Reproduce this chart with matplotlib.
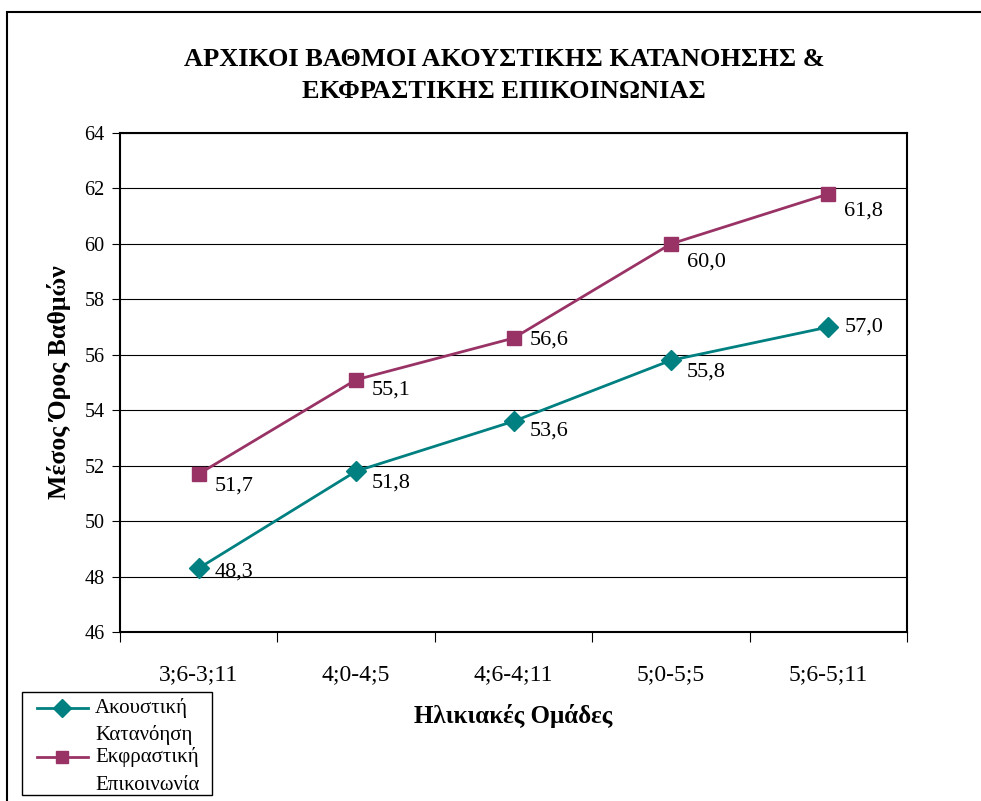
import matplotlib
matplotlib.use("Agg")
import matplotlib.pyplot as plt
from matplotlib.patches import Rectangle
from matplotlib.lines import Line2D
from matplotlib.ticker import FixedLocator, NullFormatter

categories = ["3;6-3;11", "4;0-4;5", "4;6-4;11", "5;0-5;5", "5;6-5;11"]
akoustiki = [48.3, 51.8, 53.6, 55.8, 57.0]
ekfrastiki = [51.7, 55.1, 56.6, 60.0, 61.8]
series_names = [["Ακουστική", "Κατανόηση"], ["Εκφραστική", "Επικοινωνία"]]
yticks = [46, 48, 50, 52, 54, 56, 58, 60, 62, 64]

# label vertical offsets (pixels below the point), styling only
off_ak = [4, 12, 10, 12, 0]
off_ek = [12, 10, 2, 18, 17]

plt.rcParams['font.family'] = ['Liberation Serif', 'DejaVu Serif']

W, H = 981, 801
fig = plt.figure(figsize=(W / 100, H / 100), dpi=100)
PX = 0.72  # points per pixel at dpi 100

# outer chart frame
fig.patches.append(Rectangle((7 / W, -0.1), 1.2, 1 - 12 / H + 0.1, transform=fig.transFigure,
                             fill=False, edgecolor='black', linewidth=1.5, zorder=0))

left, right, top, bottom = 120, 907, 133, 632
ax = fig.add_axes([left / W, 1 - bottom / H, (right - left) / W, (bottom - top) / H])

x = list(range(len(categories)))
teal = '#008080'
purple = '#993366'
ax.plot(x, akoustiki, color=teal, linewidth=2.0, marker='D', markersize=10,
        markerfacecolor=teal, markeredgecolor=teal, zorder=3)
ax.plot(x, ekfrastiki, color=purple, linewidth=2.0, marker='s', markersize=10,
        markerfacecolor=purple, markeredgecolor=purple, zorder=3)

for xi, v, o in zip(x, akoustiki, off_ak):
    ax.annotate(f"{v:.1f}".replace('.', ','), (xi, v), xytext=(16 * PX, -o * PX),
                textcoords='offset points', ha='left', va='center', fontsize=16)
for xi, v, o in zip(x, ekfrastiki, off_ek):
    ax.annotate(f"{v:.1f}".replace('.', ','), (xi, v), xytext=(16 * PX, -o * PX),
                textcoords='offset points', ha='left', va='center', fontsize=16)

ax.set_xlim(-0.5, len(categories) - 0.5)
ax.set_ylim(46, 64)
ax.set_yticks(yticks)
ax.set_yticklabels([str(t) for t in yticks], fontsize=14.5)
ax.yaxis.grid(True, color='black', linewidth=0.8)
ax.set_axisbelow(True)

ax.set_xticks(x)
ax.set_xticklabels(categories, fontsize=17)
ax.tick_params(axis='x', which='major', length=0, pad=23)
ax.xaxis.set_minor_locator(FixedLocator([i - 0.5 for i in range(len(categories) + 1)]))
ax.xaxis.set_minor_formatter(NullFormatter())
ax.tick_params(axis='x', which='minor', length=7, direction='out', width=0.8)
ax.tick_params(axis='y', length=6, direction='out', width=0.8, pad=5)

for s in ax.spines.values():
    s.set_linewidth(1.5)
    s.set_color('black')

ax.set_ylabel("Μέσος Όρος Βαθμών", fontsize=18.5, fontweight='bold', labelpad=10)
ax.set_xlabel("Ηλικιακές Ομάδες", fontsize=18, fontweight='bold', labelpad=14)

fig.text(504 / W, 1 - 75 / H, "ΑΡΧΙΚΟΙ ΒΑΘΜΟΙ ΑΚΟΥΣΤΙΚΗΣ ΚΑΤΑΝΟΗΣΗΣ &\nΕΚΦΡΑΣΤΙΚΗΣ ΕΠΙΚΟΙΝΩΝΙΑΣ",
         ha='center', va='center', fontsize=19, fontweight='bold', linespacing=1.5)

# manual legend (handles aligned with first line of each label, as in the reference)
def fx(px):
    return px / W

def fy(py):
    return 1 - py / H

fig.patches.append(Rectangle((fx(22), fy(795)), (212 - 22) / W, (795 - 692) / H,
                             transform=fig.transFigure, fill=True, facecolor='white',
                             edgecolor='black', linewidth=1.0, zorder=5))
leg_specs = [(teal, 'D', 708, 735), (purple, 's', 757, 785)]
for (col, mk, y1, y2), names in zip(leg_specs, series_names):
    fig.add_artist(Line2D([fx(37), fx(88)], [fy(y1), fy(y1)], transform=fig.transFigure,
                          color=col, linewidth=2.0, zorder=6))
    fig.add_artist(Line2D([fx(62)], [fy(y1)], transform=fig.transFigure, color=col,
                          marker=mk, markersize=9, markerfacecolor=col, markeredgecolor=col,
                          linestyle='none', zorder=6))
    fig.text(fx(95), fy(y1), names[0], ha='left', va='center', fontsize=15, zorder=6)
    fig.text(fx(95), fy(y2), names[1], ha='left', va='center', fontsize=15, zorder=6)

fig.savefig("out.png", dpi=100)
